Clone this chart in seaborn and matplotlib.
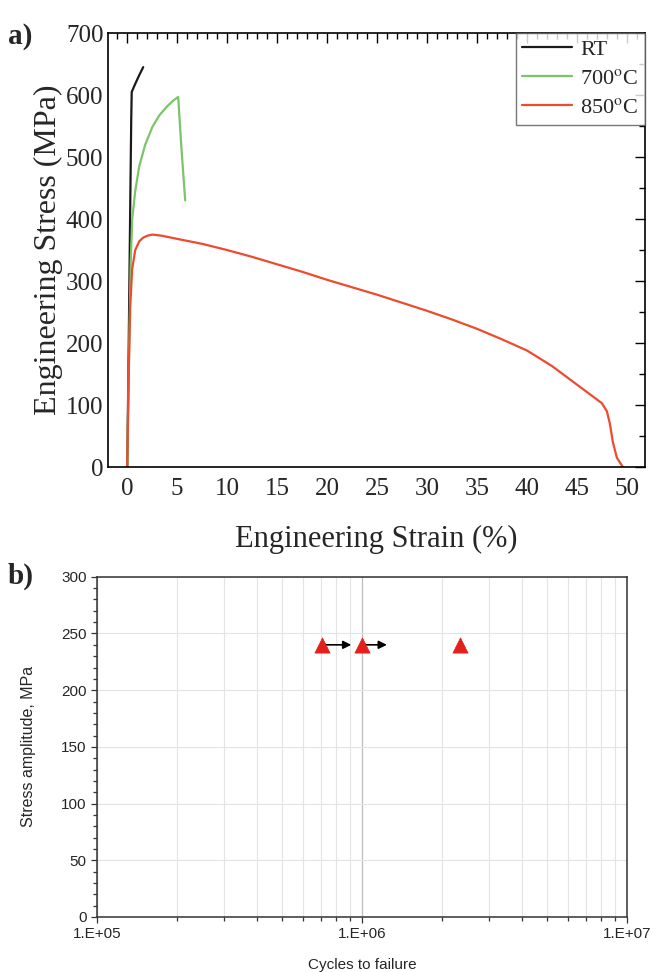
import numpy as np
import pandas as pd
import matplotlib
matplotlib.use("Agg")
import matplotlib.pyplot as plt
import seaborn as sns
from matplotlib.ticker import MultipleLocator, LogLocator, FuncFormatter, NullFormatter

# ---------------- data ----------------
rt_strain = [0.0, 0.15, 0.3, 0.4, 0.45, 0.8, 1.2, 1.6]
rt_stress = [0, 200, 420, 560, 605, 618, 632, 645]

t700_strain = [0.0, 0.2, 0.35, 0.5, 0.8, 1.2, 1.8, 2.5, 3.2, 4.0, 4.6, 5.1, 5.4, 5.8]
t700_stress = [0, 200, 330, 400, 445, 485, 520, 548, 567, 582, 591, 597, 520, 430]

t850_strain = [0.0, 0.15, 0.3, 0.5, 0.8, 1.2, 1.6, 2.0, 2.5, 3.0, 3.5, 5, 7.5, 10, 12.5, 15,
               17.5, 20, 22.5, 25, 27.5, 30, 32.5, 35, 37.5, 40, 42.5, 45, 46.5, 47.5, 48.0,
               48.3, 48.6, 49.0, 49.6]
t850_stress = [0, 150, 260, 320, 350, 364, 370, 373, 375, 374, 373, 368, 360, 350, 339, 327,
               315, 302, 290, 278, 265, 252, 238, 223, 206, 188, 163, 133, 115, 103, 90,
               70, 40, 15, 0]

series_names = ["RT", "700$^{\\mathrm{o}}$C", "850$^{\\mathrm{o}}$C"]
series_colors = ["#1a1a1a", "#7cc46a", "#ee4a2e"]

cycles = [7.05e5, 1.0e6, 2.35e6]
amplitude = [240, 240, 240]
runout_start = [7.05e5, 1.0e6]
runout_end = [9.1e5, 1.24e6]
runout_amp = [240, 240]

# ---------------- figure ----------------
sns.set_theme(style="white")
plt.rcParams["font.family"] = ["Liberation Serif", "DejaVu Serif"]
plt.rcParams["mathtext.fontset"] = "stix"

fig = plt.figure(figsize=(6.56, 9.72), dpi=100)
ax1 = fig.add_axes([0.165, 0.5195, 0.818, 0.4465])
ax2 = fig.add_axes([0.148, 0.0566, 0.808, 0.350])

frames = []
for name, xs, ys in zip(series_names, [rt_strain, t700_strain, t850_strain],
                        [rt_stress, t700_stress, t850_stress]):
    frames.append(pd.DataFrame({"strain": xs, "stress": ys, "cond": name}))
df = pd.concat(frames, ignore_index=True)

sns.lineplot(data=df, x="strain", y="stress", hue="cond", palette=series_colors,
             sort=False, estimator=None, linewidth=1.6, ax=ax1)

ax1.set_xlim(-1.9, 51.8)
ax1.set_ylim(0, 700)
ax1.xaxis.set_major_locator(MultipleLocator(5))
ax1.xaxis.set_minor_locator(MultipleLocator(1))
ax1.yaxis.set_major_locator(MultipleLocator(100))
ax1.yaxis.set_minor_locator(MultipleLocator(50))
ax1.tick_params(which="both", direction="in", top=True, right=True, labelsize=18,
                color="black", width=1.0)
ax1.tick_params(which="major", length=7)
ax1.tick_params(which="minor", length=4)
ax1.tick_params(axis="x", pad=8)
for s in ax1.spines.values():
    s.set_color("black")
    s.set_linewidth(1.2)
ax1.set_xlabel("Engineering Strain (%)", fontsize=22, labelpad=18)
ax1.set_ylabel("Engineering Stress (MPa)", fontsize=23, labelpad=2)
leg = ax1.legend(loc="upper right", fontsize=16, frameon=True, fancybox=False,
                 edgecolor="#555555", borderaxespad=0, handlelength=2.25,
                 handletextpad=0.35, borderpad=0.3, labelspacing=0.38)
leg.get_frame().set_linewidth(1.0)
fig.text(0.012, 0.955, "a)", fontsize=21, fontweight="bold", family="Liberation Serif")

# ---------------- panel b ----------------
sans = ["Liberation Sans", "DejaVu Sans"]
ax2.set_xscale("log")
ax2.set_xlim(1e5, 1e7)
ax2.set_ylim(0, 300)
ax2.xaxis.set_major_locator(LogLocator(base=10, numticks=10))
ax2.xaxis.set_minor_locator(LogLocator(base=10, subs=np.arange(2, 10), numticks=20))
ax2.xaxis.set_major_formatter(FuncFormatter(lambda v, p: "1.E+%02d" % int(round(np.log10(v)))))
ax2.xaxis.set_minor_formatter(NullFormatter())
ax2.yaxis.set_major_locator(MultipleLocator(50))
ax2.yaxis.set_minor_locator(MultipleLocator(10))
ax2.grid(which="minor", axis="x", color="#e4e4e4", linewidth=0.8)
ax2.grid(which="major", axis="x", color="#bdbdbd", linewidth=0.9)
ax2.grid(which="major", axis="y", color="#e4e4e4", linewidth=0.8)
ax2.set_axisbelow(True)
ax2.tick_params(which="both", direction="out", color="#333333", width=0.9,
                bottom=True, left=True)
ax2.tick_params(which="major", length=4, labelsize=11)
ax2.tick_params(which="minor", length=3)
for lab in ax2.get_xticklabels() + ax2.get_yticklabels():
    lab.set_family(sans)
for s in ax2.spines.values():
    s.set_color("#333333")
    s.set_linewidth(1.1)

for x0, x1, yv in zip(runout_start, runout_end, runout_amp):
    ax2.annotate("", xy=(x1, yv), xytext=(x0, yv),
                 arrowprops=dict(arrowstyle="-|>", color="black", lw=1.2,
                                 mutation_scale=12, shrinkA=0, shrinkB=0), zorder=3)

sns.scatterplot(x=cycles, y=amplitude, marker="^", s=120, color="#e3201b",
                edgecolor="#e3201b", linewidth=0.5, ax=ax2, zorder=4)

ax2.set_xlabel("Cycles to failure", fontsize=11, family=sans, labelpad=12)
ax2.set_ylabel("Stress amplitude, MPa", fontsize=11.5, family=sans, labelpad=18)
fig.text(0.012, 0.400, "b)", fontsize=21, fontweight="bold", family="Liberation Serif")

fig.savefig("out.png", dpi=100)
